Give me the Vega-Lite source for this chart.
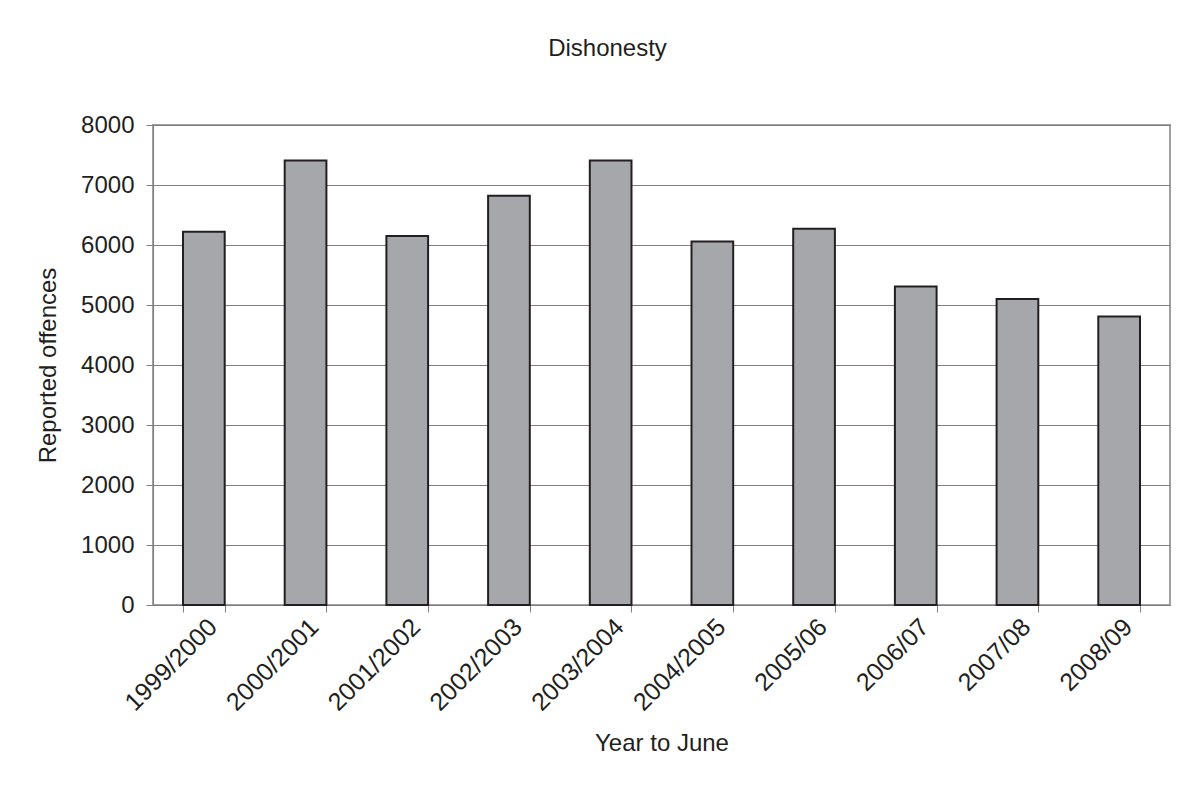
{
  "$schema": "https://vega.github.io/schema/vega-lite/v6.json",
  "width": 1017,
  "height": 480,
  "autosize": "none",
  "padding": {"left": 153, "top": 125, "right": 17, "bottom": 198},
  "background": "white",
  "title": {
    "text": "Dishonesty",
    "font": "Liberation Sans",
    "fontSize": 24,
    "fontWeight": "normal",
    "color": "#231f20",
    "anchor": "middle",
    "baseline": "alphabetic",
    "dx": -54,
    "offset": 33
  },
  "data": {
    "values": [
      {"year": "1999/2000", "offences": 6220},
      {"year": "2000/2001", "offences": 7410},
      {"year": "2001/2002", "offences": 6150},
      {"year": "2002/2003", "offences": 6820},
      {"year": "2003/2004", "offences": 7410},
      {"year": "2004/2005", "offences": 6060},
      {"year": "2005/06", "offences": 6270},
      {"year": "2006/07", "offences": 5310},
      {"year": "2007/08", "offences": 5100},
      {"year": "2008/09", "offences": 4810}
    ]
  },
  "mark": {"type": "bar", "fill": "#a6a7aa", "stroke": "#231f20", "strokeWidth": 2},
  "encoding": {
    "x": {
      "field": "year",
      "type": "nominal",
      "sort": null,
      "title": "Year to June",
      "scale": {"paddingInner": 0.59, "paddingOuter": 0.295},
      "axis": {
        "labelAngle": -45,
        "labelPadding": 2,
        "labelFontSize": 25,
        "tickBand": "extent",
        "tickSize": 7,
        "titlePadding": 16,
        "grid": false
      }
    },
    "y": {
      "field": "offences",
      "type": "quantitative",
      "title": "Reported offences",
      "scale": {"domain": [0, 8000], "nice": false},
      "axis": {
        "values": [0, 1000, 2000, 3000, 4000, 5000, 6000, 7000, 8000],
        "format": "d",
        "tickSize": 7,
        "labelPadding": 12,
        "titlePadding": 20,
        "grid": true
      }
    }
  },
  "config": {
    "font": "Liberation Sans",
    "view": {"stroke": "#a0a0a0", "strokeWidth": 2},
    "axis": {
      "labelFont": "Liberation Sans",
      "titleFont": "Liberation Sans",
      "labelFontSize": 24,
      "titleFontSize": 24,
      "titleFontWeight": "normal",
      "labelColor": "#231f20",
      "titleColor": "#231f20",
      "domainColor": "#808080",
      "domainWidth": 1,
      "tickColor": "#808080",
      "tickWidth": 1,
      "gridColor": "#808080",
      "gridWidth": 1,
      "gridOpacity": 1
    }
  }
}
